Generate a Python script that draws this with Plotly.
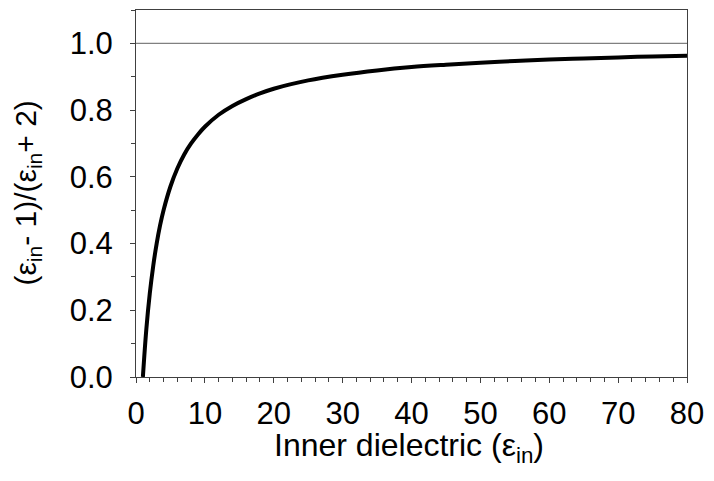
import plotly.graph_objects as go

# Values
eps_in = [1, 1.5, 2, 2.5, 3, 3.5, 4, 5, 6, 7, 8, 9, 10, 12, 14, 16, 18, 20, 25, 30, 35, 40, 45, 50, 55, 60, 65, 70, 75, 80]
ratio = [0.0, 0.143, 0.25, 0.333, 0.4, 0.455, 0.5, 0.571, 0.625, 0.667, 0.7, 0.727, 0.75,
         0.786, 0.8125, 0.833, 0.85, 0.864, 0.889, 0.906, 0.919, 0.929, 0.936, 0.942,
         0.947, 0.952, 0.955, 0.958, 0.961, 0.963]
ref_x = [0, 80]
ref_y = [1.0, 1.0]
x_ticks = [0, 10, 20, 30, 40, 50, 60, 70, 80]
y_ticks = [0.0, 0.2, 0.4, 0.6, 0.8, 1.0]
x_title = "Inner dielectric (ε<sub>in</sub>)"
y_title = "(ε<sub>in</sub>- 1)/(ε<sub>in</sub>+ 2)"

FONT = "Liberation Sans, Arial, sans-serif"

fig = go.Figure()
fig.add_trace(go.Scatter(x=ref_x, y=ref_y, mode="lines",
                         line=dict(color="#808080", width=1.2), hoverinfo="skip"))
fig.add_trace(go.Scatter(x=eps_in, y=ratio, mode="lines", line_shape="spline",
                         line=dict(color="black", width=4)))

# page has an 8px body margin, so the figure is 8px smaller and margins shifted
fig.update_layout(
    width=706, height=473,
    margin=dict(l=128, r=27, t=2, b=104),
    paper_bgcolor="white", plot_bgcolor="white",
    showlegend=False,
    font=dict(family=FONT, color="black", size=31),
)
fig.update_xaxes(
    range=[0, 80], tickvals=x_ticks, ticktext=[str(v) for v in x_ticks],
    showgrid=False, zeroline=False, showline=True, linecolor="#404040", linewidth=1,
    mirror=True, ticks="outside", ticklen=5, tickcolor="#404040",
    minor=dict(dtick=2, ticks="outside", ticklen=4, tickcolor="#404040"),
    tickfont=dict(size=31, family=FONT), automargin=False, ticklabelstandoff=4,
)
fig.update_yaxes(
    range=[0, 1.1], tickvals=y_ticks, ticktext=["%.1f" % v for v in y_ticks],
    showgrid=False, zeroline=False, showline=True, linecolor="#404040", linewidth=1,
    mirror=True, ticks="outside", ticklen=5, tickcolor="#404040",
    minor=dict(dtick=0.1, ticks="outside", ticklen=4, tickcolor="#404040"),
    tickfont=dict(size=31, family=FONT), automargin=False, ticklabelstandoff=11,
)
fig.add_annotation(text=x_title, xref="paper", yref="paper", x=0.4946, y=-0.191,
                   xanchor="center", yanchor="middle", showarrow=False,
                   font=dict(size=32, family=FONT, color="black"))
fig.add_annotation(text=y_title, xref="paper", yref="paper", x=-0.1978, y=0.5,
                   xanchor="center", yanchor="middle", showarrow=False, textangle=-90,
                   font=dict(size=30, family=FONT, color="black"))

fig.write_html("out.html")
